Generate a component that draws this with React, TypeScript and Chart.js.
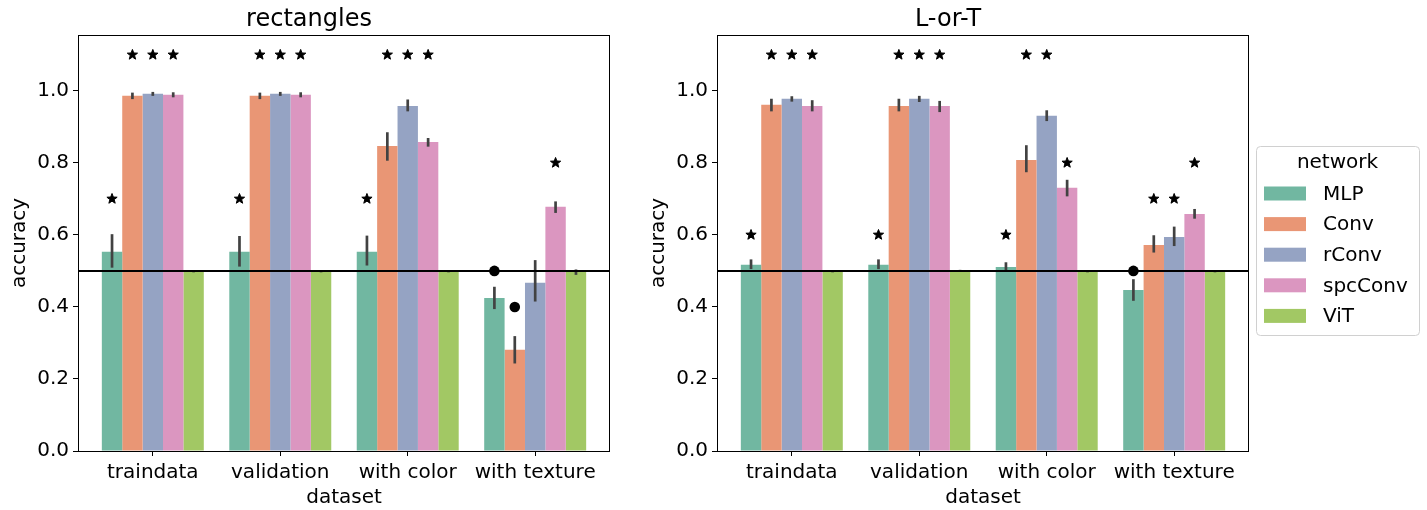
import React, { useEffect, useRef } from "react";
import { Chart, registerables } from "chart.js";

Chart.register(...registerables);

const categories = ["traindata", "validation", "with color", "with texture"];
const networks = ["MLP", "Conv", "rConv", "spcConv", "ViT"];
const colors = ["#71b7a1", "#e99675", "#95a3c3", "#db96c0", "#a2c864"];
const yTicks = [0, 0.2, 0.4, 0.6, 0.8, 1.0];
const chanceLevel = 0.5;

// rectangles panel
const rectMeans = [
  [0.553, 0.553, 0.553, 0.425],
  [0.986, 0.986, 0.847, 0.281],
  [0.992, 0.992, 0.958, 0.467],
  [0.989, 0.989, 0.858, 0.678],
  [0.499, 0.499, 0.499, 0.497],
];
const rectLow = [
  [0.509, 0.512, 0.515, 0.394],
  [0.977, 0.977, 0.806, 0.243],
  [0.986, 0.986, 0.943, 0.415],
  [0.982, 0.982, 0.845, 0.661],
  [0.496, 0.496, 0.496, 0.489],
];
const rectHigh = [
  [0.602, 0.597, 0.598, 0.456],
  [0.995, 0.995, 0.885, 0.319],
  [0.997, 0.997, 0.976, 0.53],
  [0.996, 0.996, 0.869, 0.693],
  [0.502, 0.502, 0.502, 0.504],
];
const rectStars = [
  [0.7, 0.7, 0.7, null],
  [1.1, 1.1, 1.1, null],
  [1.1, 1.1, 1.1, null],
  [1.1, 1.1, 1.1, 0.8],
  [null, null, null, null],
];
const rectDots = [
  [null, null, null, 0.5],
  [null, null, null, 0.4],
  [null, null, null, null],
  [null, null, null, null],
  [null, null, null, null],
];

// L-or-T panel
const lotMeans = [
  [0.517, 0.517, 0.511, 0.447],
  [0.961, 0.958, 0.808, 0.572],
  [0.978, 0.978, 0.931, 0.594],
  [0.958, 0.958, 0.731, 0.658],
  [0.499, 0.5, 0.499, 0.499],
];
const lotLow = [
  [0.505, 0.505, 0.499, 0.417],
  [0.943, 0.943, 0.774, 0.551],
  [0.97, 0.969, 0.916, 0.569],
  [0.943, 0.941, 0.707, 0.645],
  [0.496, 0.497, 0.496, 0.496],
];
const lotHigh = [
  [0.532, 0.532, 0.524, 0.477],
  [0.978, 0.978, 0.849, 0.599],
  [0.985, 0.986, 0.946, 0.623],
  [0.974, 0.972, 0.753, 0.672],
  [0.502, 0.503, 0.502, 0.502],
];
const lotStars = [
  [0.6, 0.6, 0.6, null],
  [1.1, 1.1, 1.1, 0.7],
  [1.1, 1.1, 1.1, 0.7],
  [1.1, 1.1, 0.8, 0.8],
  [null, null, null, null],
];
const lotDots = [
  [null, null, null, 0.5],
  [null, null, null, null],
  [null, null, null, null],
  [null, null, null, null],
  [null, null, null, null],
];

const FONT = "DejaVu Sans";
Chart.defaults.font.family = FONT;
Chart.defaults.color = "#000";

function drawStar(ctx: CanvasRenderingContext2D, cx: number, cy: number, R: number) {
  const r = R * 0.42;
  ctx.beginPath();
  for (let k = 0; k < 10; k++) {
    const ang = -Math.PI / 2 + (k * Math.PI) / 5;
    const rad = k % 2 === 0 ? R : r;
    const px = cx + rad * Math.cos(ang);
    const py = cy + rad * Math.sin(ang);
    if (k === 0) ctx.moveTo(px, py);
    else ctx.lineTo(px, py);
  }
  ctx.closePath();
  ctx.fill();
  ctx.stroke();
}

function overlayPlugin(lows: number[][], highs: number[][], stars: (number | null)[][], dots: (number | null)[][]) {
  return {
    id: "overlay",
    afterDatasetsDraw(chart: any) {
      const ctx = chart.ctx as CanvasRenderingContext2D;
      const ys = chart.scales.y;
      const area = chart.chartArea;
      ctx.save();
      // error bars
      ctx.strokeStyle = "#424242";
      ctx.lineWidth = 2.7;
      ctx.lineCap = "butt";
      chart.data.datasets.forEach((_: any, di: number) => {
        const meta = chart.getDatasetMeta(di);
        meta.data.forEach((bar: any, ci: number) => {
          ctx.beginPath();
          ctx.moveTo(bar.x, ys.getPixelForValue(lows[di][ci]));
          ctx.lineTo(bar.x, ys.getPixelForValue(highs[di][ci]));
          ctx.stroke();
        });
      });
      // chance line
      const yl = ys.getPixelForValue(chanceLevel);
      ctx.strokeStyle = "#000";
      ctx.lineWidth = 2;
      ctx.beginPath();
      ctx.moveTo(area.left, yl);
      ctx.lineTo(area.right, yl);
      ctx.stroke();
      // markers
      ctx.fillStyle = "#000";
      ctx.strokeStyle = "#000";
      ctx.lineWidth = 1;
      ctx.lineJoin = "miter";
      chart.data.datasets.forEach((_: any, di: number) => {
        const meta = chart.getDatasetMeta(di);
        meta.data.forEach((bar: any, ci: number) => {
          const s = stars[di][ci];
          if (s !== null && s !== undefined) drawStar(ctx, bar.x, ys.getPixelForValue(s), 5.4);
          const d = dots[di][ci];
          if (d !== null && d !== undefined) {
            ctx.beginPath();
            ctx.arc(bar.x, ys.getPixelForValue(d), 5.3, 0, Math.PI * 2);
            ctx.fill();
          }
        });
      });
      ctx.restore();
    },
    afterDraw(chart: any) {
      const ctx = chart.ctx as CanvasRenderingContext2D;
      const a = chart.chartArea;
      ctx.save();
      ctx.strokeStyle = "#000";
      ctx.lineWidth = 1;
      ctx.strokeRect(Math.round(a.left) + 0.5, Math.round(a.top) + 0.5, Math.round(a.right - a.left) - 1, Math.round(a.bottom - a.top));
      ctx.restore();
    },
  };
}

const legendPlugin = {
  id: "boxLegend",
  afterDraw(chart: any) {
    const ctx = chart.ctx as CanvasRenderingContext2D;
    const a = chart.chartArea;
    const left = a.right + 7;
    const w = 163;
    const h = 189;
    const top = (a.top + a.bottom) / 2 - 97;
    ctx.save();
    ctx.strokeStyle = "#d0d0d0";
    ctx.lineWidth = 1;
    ctx.fillStyle = "rgba(255,255,255,0.8)";
    ctx.beginPath();
    (ctx as any).roundRect(left + 0.5, top + 0.5, w, h, 4);
    ctx.fill();
    ctx.stroke();
    ctx.fillStyle = "#000";
    ctx.font = `20px "${FONT}"`;
    ctx.textBaseline = "middle";
    ctx.textAlign = "center";
    ctx.fillText("network", left + w / 2, top + 17);
    ctx.textAlign = "left";
    networks.forEach((name, i) => {
      const cy = top + 47.5 + i * 30.6;
      ctx.fillStyle = colors[i];
      ctx.fillRect(left + 8, cy - 7, 42, 14);
      ctx.fillStyle = "#000";
      ctx.fillText(name, left + 67, cy + 1);
    });
    ctx.restore();
  },
};

function buildConfig(title: string, means: number[][], lows: number[][], highs: number[][], stars: (number | null)[][], dots: (number | null)[][], padRight: number, withLegend: boolean) {
  const datasets = networks.map((name, di) => ({
    label: name,
    data: categories.map((_, ci) => ({ x: ci, y: means[di][ci] })),
    backgroundColor: colors[di],
    borderWidth: 0,
    categoryPercentage: 0.8,
    barPercentage: 1.0,
  }));
  const plugins: any[] = [overlayPlugin(lows, highs, stars, dots)];
  if (withLegend) plugins.push(legendPlugin);
  return {
    type: "bar" as const,
    data: { datasets },
    plugins,
    options: {
      animation: false,
      responsive: false,
      maintainAspectRatio: false,
      layout: { padding: { left: 8, right: padRight, top: 0, bottom: 0 } },
      plugins: {
        legend: { display: false },
        tooltip: { enabled: false },
        title: {
          display: true,
          text: title,
          font: { size: 24, weight: "normal" as const, family: FONT },
          color: "#000",
          padding: { top: 5, bottom: 1.2 },
        },
      },
      scales: {
        x: {
          type: "linear" as const,
          min: -0.587,
          max: 3.587,
          offset: false,
          grid: { display: true, drawOnChartArea: false, drawTicks: true, tickLength: 5, color: "#000", offset: false },
          border: { display: false },
          afterBuildTicks: (scale: any) => {
            scale.ticks = categories.map((_, i) => ({ value: i }));
          },
          afterFit: (scale: any) => {
            scale.height = 59;
          },
          ticks: {
            autoSkip: false,
            maxRotation: 0,
            padding: 5,
            font: { size: 20, family: FONT },
            color: "#000",
            callback: (v: any) => categories[Math.round(Number(v))] ?? "",
          },
          title: {
            display: true,
            text: "dataset",
            font: { size: 20, family: FONT },
            color: "#000",
            padding: { top: 0, bottom: 0 },
          },
        },
        y: {
          type: "linear" as const,
          min: 0,
          max: 1.155,
          grid: { display: true, drawOnChartArea: false, drawTicks: true, tickLength: 5, color: "#000" },
          border: { display: false },
          afterBuildTicks: (scale: any) => {
            scale.ticks = yTicks.map((v) => ({ value: v }));
          },
          afterFit: (scale: any) => {
            scale.width = 70;
          },
          ticks: {
            padding: 4,
            font: { size: 20, family: FONT },
            color: "#000",
            callback: (v: any) => Number(v).toFixed(1),
          },
          title: {
            display: true,
            text: "accuracy",
            font: { size: 20, family: FONT },
            color: "#000",
            padding: { top: 0, bottom: 0 },
          },
        },
      },
    },
  };
}

function Panel(props: { left: number; width: number; cfg: any }) {
  const ref = useRef<HTMLCanvasElement | null>(null);
  useEffect(() => {
    if (!ref.current) return;
    const chart = new Chart(ref.current, props.cfg);
    return () => chart.destroy();
  }, []);
  return (
    <canvas
      ref={ref}
      width={props.width}
      height={510}
      style={{ position: "absolute", left: props.left, top: 0, width: props.width, height: 510 }}
    />
  );
}

export default function App() {
  const leftCfg = buildConfig("rectangles", rectMeans, rectLow, rectHigh, rectStars, rectDots, 29, false);
  const rightCfg = buildConfig("L-or-T", lotMeans, lotLow, lotHigh, lotStars, lotDots, 178, true);
  return (
    <div style={{ position: "fixed", left: 0, top: 0, width: 1427, height: 510, background: "#fff", overflow: "hidden" }}>
      <Panel left={0} width={639} cfg={leftCfg} />
      <Panel left={639} width={788} cfg={rightCfg} />
    </div>
  );
}
